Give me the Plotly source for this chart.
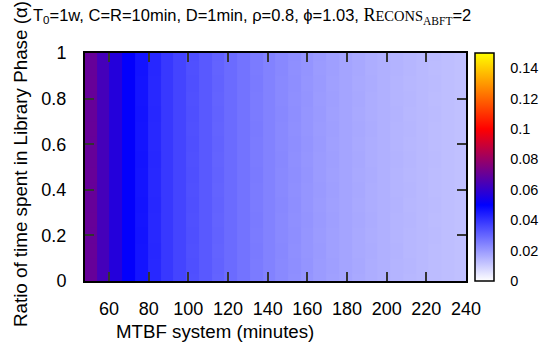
import plotly.graph_objects as go

# MTBF system (minutes) - cell centres
mtbf = [50.6, 57.0, 63.5, 69.9, 76.3, 82.8, 89.2, 95.6, 102.0, 108.5,
        114.9, 121.3, 127.8, 134.2, 140.6, 147.1, 153.5, 159.9, 166.3, 172.8,
        179.2, 185.6, 192.1, 198.5, 204.9, 211.4, 217.8, 224.2, 230.6, 237.1]

# Ratio of time spent in Library Phase (alpha) - cell centres
alpha = [0.0, 0.0667, 0.1333, 0.2, 0.2667, 0.3333, 0.4, 0.4667,
         0.5333, 0.6, 0.6667, 0.7333, 0.8, 0.8667, 0.9333, 1.0]

# waste values (x 1e-4), one row per alpha (bottom to top)
waste_1e4 = [
    [700,635,570,505,461,422,390,366,344,325,306,290,274,259,245,232,220,208,197,187,178,169,161,154,148,142,137,132,127,123],
    [700,635,570,505,461,422,391,366,345,326,307,290,275,259,246,232,221,209,197,188,178,170,161,155,148,143,137,132,128,123],
    [701,635,570,505,461,423,390,367,344,325,306,291,274,260,245,233,220,208,198,187,179,169,162,154,149,142,138,132,127,124],
    [700,636,570,506,462,422,390,366,345,326,307,290,274,259,245,232,221,208,197,187,178,169,161,154,148,142,137,133,127,123],
    [701,635,571,505,461,422,391,367,344,325,306,290,275,260,246,232,220,209,198,188,178,170,162,155,148,143,137,132,128,123],
    [700,635,570,505,462,423,390,366,345,325,307,291,274,259,245,233,221,208,197,187,179,169,161,154,149,142,138,133,127,124],
    [700,636,570,506,461,422,391,367,344,326,306,290,275,259,246,232,220,208,198,188,178,170,161,155,148,143,137,132,128,123],
    [701,635,571,505,461,422,390,366,345,325,307,290,274,260,245,232,221,209,197,187,178,169,162,154,148,142,137,132,127,123],
    [700,635,570,505,462,423,391,367,344,326,306,291,274,259,245,233,220,208,197,188,179,170,161,155,149,143,138,133,128,124],
    [700,636,570,506,461,422,390,366,345,325,307,290,275,259,246,232,221,209,198,187,178,169,161,154,148,142,137,132,127,123],
    [701,635,571,505,461,422,391,367,344,326,306,290,274,260,245,232,220,208,197,188,178,170,162,155,148,143,137,132,128,123],
    [700,635,570,505,462,423,390,366,345,325,307,291,275,259,246,233,221,208,198,187,179,169,161,154,149,142,138,133,127,124],
    [700,636,570,506,461,422,391,367,344,325,306,290,274,259,245,232,220,209,197,188,178,170,161,155,148,143,137,132,128,123],
    [701,635,571,505,461,422,390,366,345,326,307,290,275,260,246,232,221,208,198,187,178,169,162,154,148,142,137,133,127,123],
    [700,635,570,505,462,423,391,367,344,325,306,291,274,259,245,233,220,209,197,188,179,170,161,155,149,143,138,132,128,124],
    [700,636,570,506,461,422,390,366,345,326,307,290,275,259,246,232,221,208,198,187,178,169,161,154,148,142,137,133,127,123],
]

x_ticks = [60, 80, 100, 120, 140, 160, 180, 200, 220, 240]
y_ticks = [0, 0.2, 0.4, 0.6, 0.8, 1]
y_tick_text = ["0", "0.2", "0.4", "0.6", "0.8", "1"]
cb_ticks = [0, 0.02, 0.04, 0.06, 0.08, 0.1, 0.12, 0.14]
cb_tick_text = ["0", "0.02", "0.04", "0.06", "0.08", "0.1", "0.12", "0.14"]

W, H = 554, 350
L, R, T, B = 85, 466.5, 52.5, 281.5
FONT = "Liberation Sans"

z = [[v / 10000.0 for v in row] for row in waste_1e4]

def px(xp):
    return (xp - L) / (R - L)

def py(yp):
    return (B - yp) / (B - T)

fig = go.Figure()
fig.add_trace(go.Heatmap(
    x=mtbf, y=alpha, z=z, zmin=0, zmax=0.15, zsmooth=False,
    colorscale=[[0, "#ffffff"], [1/3, "#0000ff"], [2/3, "#ff0000"], [1, "#ffff00"]],
    colorbar=dict(
        x=px(475.7), xanchor="left", xpad=0, ypad=0,
        y=0.5, yanchor="middle", len=1, lenmode="fraction",
        thickness=19, outlinewidth=1.5, outlinecolor="#000",
        tickvals=cb_ticks, ticktext=cb_tick_text,
        ticks="outside", ticklen=13, tickcolor="rgba(0,0,0,0)",
        tickfont=dict(family=FONT, size=14.5, color="#000"),
    ),
    hoverinfo="skip",
))

axis_common = dict(
    showline=True, linewidth=2, linecolor="#000", mirror="allticks",
    ticks="inside", ticklen=9, tickwidth=1.5, tickcolor="#333",
    showgrid=False, zeroline=False, automargin=False,
    tickfont=dict(family=FONT, size=18, color="#000"),
)

fig.update_layout(
    template="none",
    width=W, height=H,
    margin=dict(l=L, r=W - R, t=T, b=H - B, pad=0, autoexpand=False),
    paper_bgcolor="white", plot_bgcolor="white",
    font=dict(family=FONT, size=18, color="#000"),
    xaxis=dict(range=[47.9, 240], tickvals=x_ticks, ticklabelstandoff=10, **axis_common),
    yaxis=dict(range=[0, 1], tickvals=y_ticks, ticktext=y_tick_text, ticklabelstandoff=13, **axis_common),
    showlegend=False,
)

# colorbar tick marks (gnuplot style, both sides inside the bar)
for v in cb_ticks[1:]:
    yy = v / 0.15
    for a, b in ((476.5, 484.5), (488, 494.5)):
        fig.add_shape(type="line", xref="paper", yref="paper",
                      x0=px(a), x1=px(b), y0=yy, y1=yy,
                      line=dict(color="#000", width=1.5))

title_txt = ("T<sub>0</sub>=1w, C=R=10min, D=1min, ρ=0.8, ϕ=1.03, "
             "<span style='font-family:Liberation Serif;font-size:18px'>R<span style='font-size:14.5px'>ECONS</span>"
             "<sub><span style='font-size:11.5px'>ABFT</span></sub></span>=2")
fig.add_annotation(text=title_txt, xref="paper", yref="paper",
                   x=px(31), y=py(15), xanchor="left", yanchor="middle",
                   showarrow=False, font=dict(family=FONT, size=16.5, color="#000"))

fig.add_annotation(text="MTBF system (minutes)", xref="paper", yref="paper",
                   x=px(215), y=py(332), xanchor="center", yanchor="middle",
                   showarrow=False, font=dict(family=FONT, size=18.7, color="#000"))

fig.add_annotation(text="Ratio of time spent in Library Phase (α)", xref="paper", yref="paper",
                   x=px(20), y=py(164), xanchor="center", yanchor="middle", textangle=-90,
                   showarrow=False, font=dict(family=FONT, size=18.8, color="#000"))

fig.write_html("out.html", config={"displayModeBar": False},
               post_script="document.body.style.margin='0';document.body.style.overflow='hidden';")
